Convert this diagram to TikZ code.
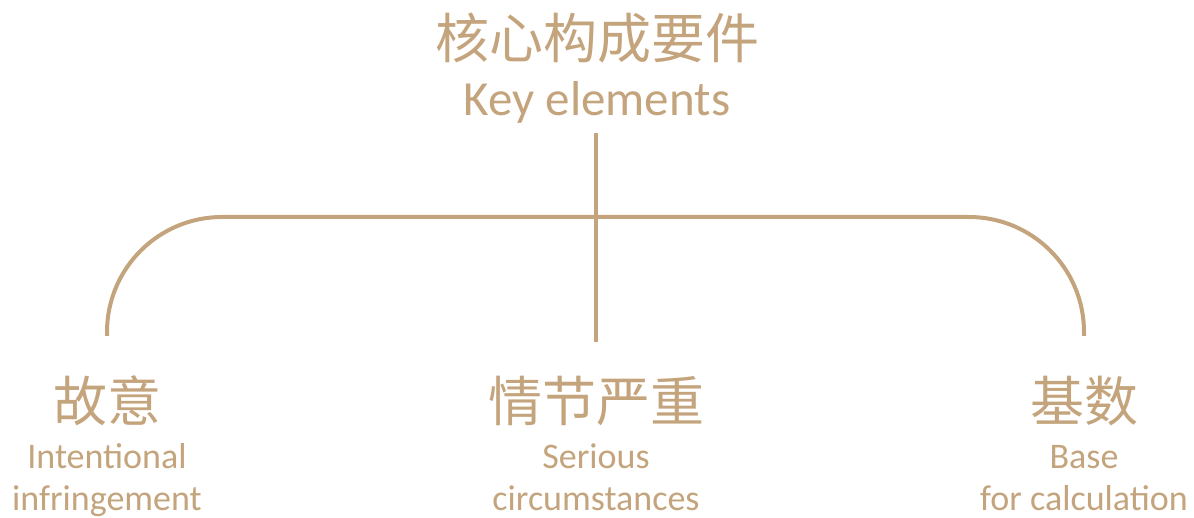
\documentclass[tikz,border=0pt]{standalone}
\usepackage{fontspec}
\setmainfont{Carlito}
\newfontfamily\cjk{Noto Sans CJK SC}
\definecolor{tan}{HTML}{C4A47C}
\begin{document}
\begin{tikzpicture}[x=1pt,y=-1pt,
  cn/.style={text=tan,inner sep=0pt,anchor=base,font=\cjk\fontsize{54}{60}\selectfont},
  en/.style={text=tan,inner sep=0pt,anchor=base,font=\fontsize{36}{42}\selectfont},
  conn/.style={draw=tan,line width=4pt}]
\useasboundingbox (0,0) rectangle (1194,518);
\node[cn] (title) at (597,59) {核心构成要件};
\node[en,font=\fontsize{49}{54}\selectfont] (titleen) at (597,116) {Key elements};
\node[cn] (a) at (107,421) {故意};
\node[en] (a1) at (107,468) {Intentional};
\node[en] (a2) at (107,510) {infringement};
\node[cn] (b) at (596,421) {情节严重};
\node[en] (b1) at (596,468) {Serious};
\node[en] (b2) at (596,510) {circumstances};
\node[cn] (c) at (1084,421) {基数};
\node[en] (c1) at (1084,468) {Base};
\node[en] (c2) at (1084,510) {for calculation};
\coordinate (top) at (596,133);
\coordinate (bot) at (596,342);
\coordinate (lend) at (107,336);
\coordinate (rend) at (1084,336);
\draw[conn] (top) -- (bot);
\draw[conn] (lend) -- (107,332) arc[start angle=180,end angle=270,radius=115] -- (969,217) arc[start angle=270,end angle=360,radius=115] -- (rend);
\end{tikzpicture}
\end{document}
